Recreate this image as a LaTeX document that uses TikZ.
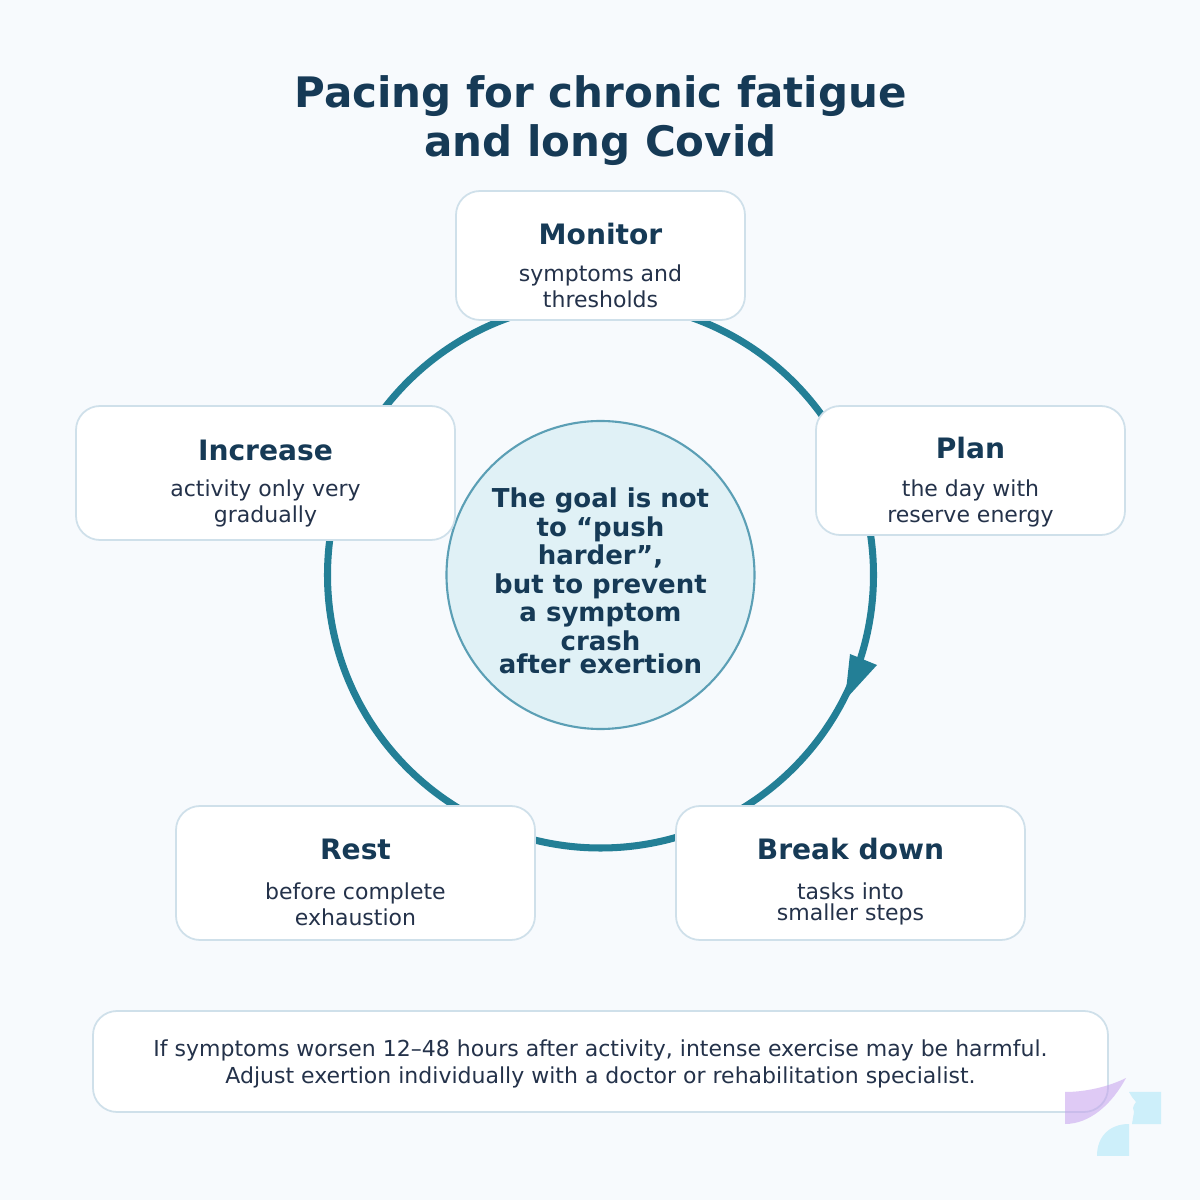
\documentclass[tikz,border=0pt]{standalone}
\usepackage{fontspec}
\setmainfont{DejaVu Sans}
\definecolor{pagebg}{HTML}{F7FAFD}
\definecolor{titleink}{HTML}{163A56}
\definecolor{bodyink}{HTML}{24324A}
\definecolor{ringteal}{HTML}{237F96}
\definecolor{cardline}{HTML}{CFE0EA}
\definecolor{goalfill}{HTML}{E0F1F6}
\definecolor{goalline}{HTML}{5B9FB5}
\definecolor{logoviolet}{HTML}{C5A0ED}
\definecolor{logoblue}{HTML}{CDEFFA}
\newcommand{\cardhead}[1]{{\fontsize{8}{8}\selectfont\bfseries\color{titleink}#1}}

\begin{document}
\begin{tikzpicture}[
        card/.style={rectangle, rounded corners=0.24cm, draw=cardline, line width=0.5pt, fill=white, inner sep=0pt, outer sep=0pt},
        cardtext/.style={align=center, inner sep=0pt, text=bodyink, font=\fontsize{6.26}{7.4}\selectfont},
        cycleline/.style={draw=ringteal, line width=2pt}
    ]
        % Page
        \useasboundingbox (0,0) rectangle (12,12);
        \fill[pagebg] (0,0) rectangle (12,12);

        % Title
        \node[align=center, inner sep=0pt, text=titleink, font=\fontsize{11.95}{14}\selectfont\bfseries] (title) at (6.005,10.795) {Pacing for chronic fatigue\\and long Covid};

        % Cycle behind the cards
        \coordinate (hub) at (6.005,6.25);
        \draw[cycleline] (hub) circle (2.73);
        \fill[ringteal] (8.50,5.46) -- (8.77,5.35) -- (8.45,5.00) -- cycle;

        % Centre
        \node[circle, draw=goalline, line width=0.6pt, fill=goalfill, minimum size=3.08cm, inner sep=0pt] (goal) at (hub) {};
        \node[cardtext, text=titleink, font=\fontsize{7.4}{8.1}\selectfont\bfseries] (goaltext) at (6.005,6.19) {The goal is not\\to “push\\harder”,\\but to prevent\\a symptom\\crash\\[-1.4pt]after exertion};

        % Cards
        \node[card, minimum width=2.89cm, minimum height=1.29cm] (monitor) at (6.005,9.445) {};
        \node[cardtext] (monitortext) at (6.005,9.345) {\cardhead{Monitor}\\[3.3pt]symptoms and\\thresholds};

        \node[card, minimum width=3.09cm, minimum height=1.29cm] (plan) at (9.705,7.295) {};
        \node[cardtext] (plantext) at (9.705,7.18) {\cardhead{Plan}\\[3.4pt]the day with\\reserve energy};

        \node[card, minimum width=3.79cm, minimum height=1.34cm] (increase) at (2.655,7.27) {};
        \node[cardtext] (increasetext) at (2.655,7.165) {\cardhead{Increase}\\[3.1pt]activity only very\\gradually};

        \node[card, minimum width=3.59cm, minimum height=1.34cm] (rest) at (3.555,3.27) {};
        \node[cardtext] (resttext) at (3.555,3.18) {\cardhead{Rest}\\[4pt]before complete\\exhaustion};

        \node[card, minimum width=3.49cm, minimum height=1.34cm] (breakdown) at (8.505,3.27) {};
        \node[cardtext] (breakdowntext) at (8.505,3.18) {\cardhead{Break down}\\[4pt]tasks into\\[-1.4pt]smaller steps};

        % Note
        \node[card, minimum width=10.15cm, minimum height=1.01cm] (note) at (6.005,1.385) {};
        \node[cardtext] (notetext) at (6.005,1.365) {If symptoms worsen 12–48 hours after activity, intense exercise may be harmful.\\[0.3pt]Adjust exertion individually with a doctor or rehabilitation specialist.};

        % Logo
        \fill[logoviolet, opacity=0.55] (10.65,1.08) .. controls (10.85,1.08) and (11.08,1.13) .. (11.26,1.22) .. controls (11.12,0.96) and (10.9,0.76) .. (10.65,0.76) -- cycle;
        \fill[logoblue] (11.29,1.08) -- (11.61,1.08) -- (11.61,0.76) -- (11.32,0.76) -- (11.33,0.82) -- (11.34,0.88) -- (11.33,0.92) -- (11.34,0.95) -- (11.36,0.98) -- (11.32,1.03) -- cycle;
        \fill[logoblue] (10.97,0.44) -- (11.29,0.44) -- (11.29,0.76) .. controls (11.1,0.76) and (10.97,0.64) .. (10.97,0.44) -- cycle;
    \end{tikzpicture}
\end{document}
